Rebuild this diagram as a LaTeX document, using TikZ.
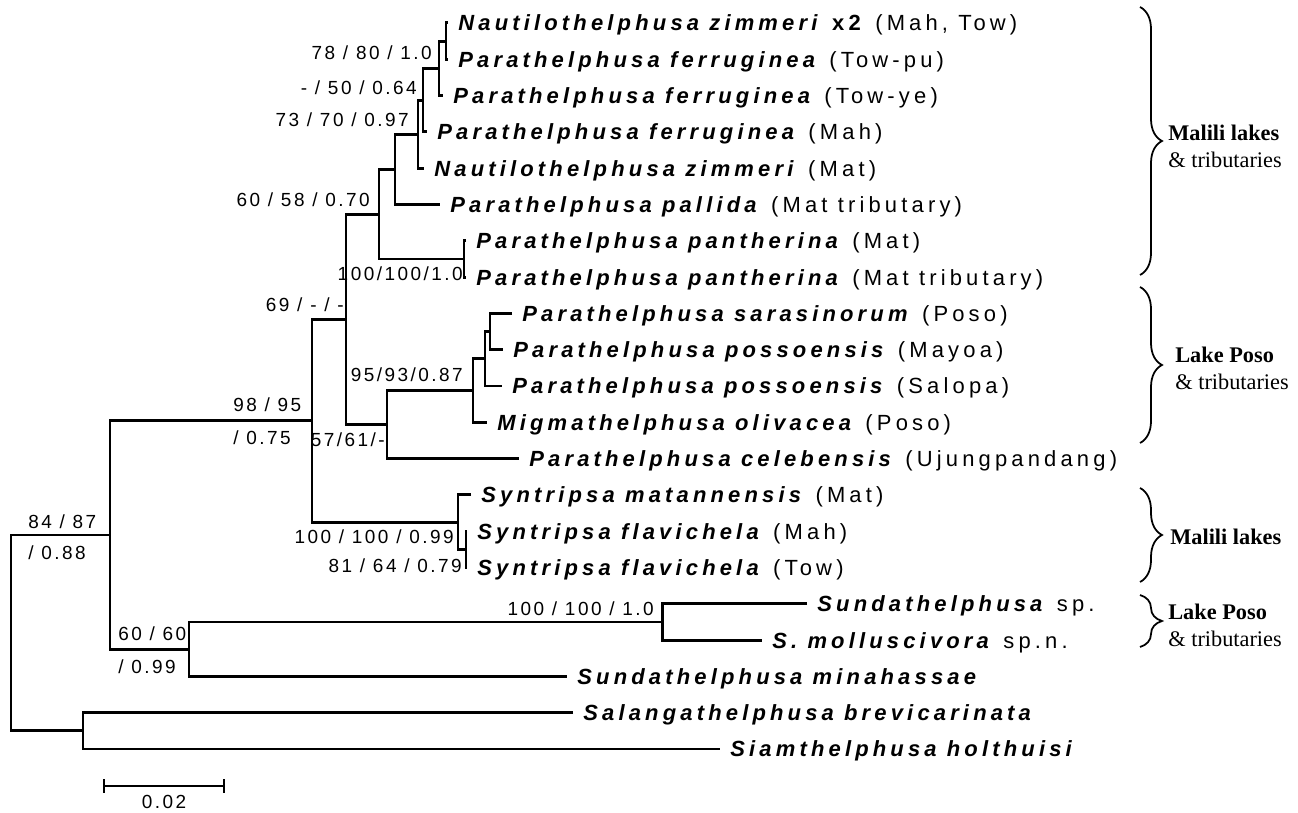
\documentclass[tikz,border=0pt]{standalone}
\usepackage{fontspec}
\setmainfont{Liberation Serif}
\newfontfamily\taxfont[LetterSpace=19]{Liberation Sans}
\newfontfamily\suppfont[LetterSpace=13]{Liberation Sans}
\usetikzlibrary{decorations.pathreplacing}
\newcommand{\gen}[1]{\textbf{\textit{#1}}}

\tikzset{
  taxon/.style={anchor=west, inner xsep=0.2cm, inner ysep=0pt, text height=9pt, text depth=0pt,
    font=\taxfont\fontsize{12.5}{15}\selectfont},
  supp/.style={inner sep=0pt, text height=7.7pt, text depth=0pt,
    font=\suppfont\fontsize{10.8}{13}\selectfont},
  branch/.style={line width=1.7pt},
  region/.style={anchor=west, align=left, inner sep=0pt, font=\fontsize{12.7}{15.3}\selectfont},
  bracket/.style={line width=1pt, decorate, decoration={brace, amplitude=0.44cm}}
}

\begin{document}
\begin{tikzpicture}[x=0.02cm,y=-0.02cm,line cap=butt,line join=miter]
\useasboundingbox (0,0) rectangle (1298,813);

\node[taxon] (t1) at (448,23) {\gen{Nautilothelphusa zimmeri} \textbf{x2} (Mah, Tow)};
\node[taxon] (t2) at (448,59.3) {\gen{Parathelphusa ferruginea} (Tow-pu)};
\node[taxon] (t3) at (443,95.6) {\gen{Parathelphusa ferruginea} (Tow-ye)};
\node[taxon] (t4) at (427,131.9) {\gen{Parathelphusa ferruginea} (Mah)};
\node[taxon] (t5) at (424,168.2) {\gen{Nautilothelphusa zimmeri} (Mat)};
\node[taxon] (t6) at (440,204.5) {\gen{Parathelphusa pallida} (Mat tributary)};
\node[taxon] (t7) at (466,240.8) {\gen{Parathelphusa pantherina} (Mat)};
\node[taxon] (t8) at (466,277.1) {\gen{Parathelphusa pantherina} (Mat tributary)};
\node[taxon] (t9) at (512,313.4) {\gen{Parathelphusa sarasinorum} (Poso)};
\node[taxon] (t10) at (503,349.7) {\gen{Parathelphusa possoensis} (Mayoa)};
\node[taxon] (t11) at (502,386) {\gen{Parathelphusa possoensis} (Salopa)};
\node[taxon] (t12) at (487,422.3) {\gen{Migmathelphusa olivacea} (Poso)};
\node[taxon] (t13) at (519,458.6) {\gen{Parathelphusa celebensis} (Ujungpandang)};
\node[taxon] (t14) at (471,494.9) {\gen{Syntripsa matannensis} (Mat)};
\node[taxon] (t15) at (467,531.2) {\gen{Syntripsa flavichela} (Mah)};
\node[taxon] (t16) at (467,567.5) {\gen{Syntripsa flavichela} (Tow)};
\node[taxon] (t17) at (807,603.8) {\gen{Sundathelphusa} sp.};
\node[taxon] (t18) at (762,640.1) {\gen{S. molluscivora} sp.n.};
\node[taxon] (t19) at (567,676.4) {\gen{Sundathelphusa minahassae}};
\node[taxon] (t20) at (573,712.7) {\gen{Salangathelphusa brevicarinata}};
\node[taxon] (t21) at (720,749) {\gen{Siamthelphusa holthuisi}};

\coordinate (O) at (446,41.2);
\coordinate (N) at (439,68.4);
\coordinate (M) at (423,100.1);
\coordinate (L) at (418,134.2);
\coordinate (K) at (395,169.3);
\coordinate (J) at (464,259);
\coordinate (I) at (379,214.1);
\coordinate (R) at (490,331.6);
\coordinate (Q) at (485,358.8);
\coordinate (P) at (473,390.5);
\coordinate (H) at (387,424.6);
\coordinate (G) at (346,319.3);
\coordinate (F) at (466,549.3);
\coordinate (E) at (458,522.1);
\coordinate (D) at (312,420.7);
\coordinate (C) at (662,622);
\coordinate (B) at (189,649.2);
\coordinate (A) at (110,535);
\coordinate (Out) at (83,730.9);
\coordinate (root) at (11,633);

\draw[branch] (t1.west) -| (O) |- (t2.west);
\draw[branch] (O) -| (N) |- (t3.west);
\draw[branch] (N) -| (M) |- (t4.west);
\draw[branch] (M) -| (L) |- (t5.west);
\draw[branch] (L) -| (K) |- (t6.west);
\draw[branch] (t7.west) -| (J) |- (t8.west);
\draw[branch] (K) -| (I) |- (J);
\draw[branch] (t9.west) -| (R) |- (t10.west);
\draw[branch] (R) -| (Q) |- (t11.west);
\draw[branch] (Q) -| (P) |- (t12.west);
\draw[branch] (P) -| (H) |- (t13.west);
\draw[branch] (I) -| (G) |- (H);
\draw[branch] (t15.west) -| (F) |- (t16.west);
\draw[branch] (t14.west) -| (E) |- (F);
\draw[branch] (G) -| (D) |- (E);
\draw[branch] (t17.west) -| (C) |- (t18.west);
\draw[branch] (C) -| (B) |- (t19.west);
\draw[branch] (D) -| (A) |- (B);
\draw[branch] (t20.west) -| (Out) |- (t21.west);
\draw[branch] (A) -| (root) |- (Out);

\node[supp, anchor=east] (s1) at (432,53) {78 / 80 / 1.0};
\node[supp, anchor=east] (s2) at (417,88) {- / 50 / 0.64};
\node[supp, anchor=east] (s3) at (409,120) {73 / 70 / 0.97};
\node[supp, anchor=east] (s4) at (370,200) {60 / 58 / 0.70};
\node[supp, anchor=east] (s5) at (463,274) {100/100/1.0};
\node[supp, anchor=east] (s6) at (344,305) {69 / - / -};
\node[supp, anchor=east] (s7) at (463,375) {95/93/0.87};
\node[supp, anchor=east] (s8) at (385,440) {57/61/-};
\node[supp, anchor=west] (s9) at (233,405) {98 / 95};
\node[supp, anchor=west] (s10) at (233,438) {/ 0.75};
\node[supp, anchor=west] (s11) at (28,522) {84 / 87};
\node[supp, anchor=west] (s12) at (28,553) {/ 0.88};
\node[supp, anchor=east] (s13) at (454,537) {100 / 100 / 0.99};
\node[supp, anchor=east] (s14) at (462,566) {81 / 64 / 0.79};
\node[supp, anchor=east] (s15) at (654,609) {100 / 100 / 1.0};
\node[supp, anchor=west] (s16) at (118,634) {60 / 60};
\node[supp, anchor=west] (s17) at (118,667) {/ 0.99};

\coordinate (bar1) at (104,786);
\coordinate (bar2) at (224,786);
\draw[branch] (bar1) -- (bar2);
\draw[branch] ([yshift=0.14cm]bar1) -- ([yshift=-0.14cm]bar1);
\draw[branch] ([yshift=0.14cm]bar2) -- ([yshift=-0.14cm]bar2);
\node[supp] (scale) at (164,802) {0.02};

\draw[bracket] (1140,7) -- (1140,275);
\draw[bracket] (1140,287) -- (1140,443);
\draw[bracket] (1140,488) -- (1140,582);
\draw[bracket] (1140,595) -- (1140,647);
\node[region] (g1) at (1168,146.5) {\textbf{Malili lakes}\\\& tributaries};
\node[region] (g2) at (1175,368.5) {\textbf{Lake Poso}\\\& tributaries};
\node[region] (g3) at (1170,537) {\textbf{Malili lakes}};
\node[region] (g4) at (1168,625.5) {\textbf{Lake Poso}\\\& tributaries};
\end{tikzpicture}
\end{document}
